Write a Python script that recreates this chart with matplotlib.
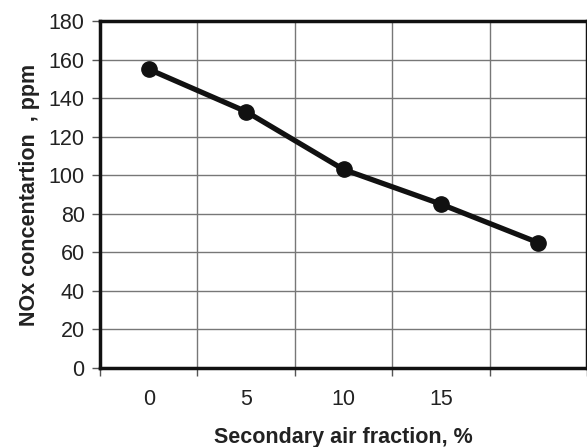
import numpy as np
import matplotlib
matplotlib.use("Agg")
import matplotlib.pyplot as plt

plt.rcParams['font.family'] = ['Liberation Sans', 'DejaVu Sans']

categories = ['0', '5', '10', '15', '']
nox_ppm = [155, 133, 103, 85, 65]

fig = plt.figure(figsize=(5.87, 4.47), dpi=100)
ax = fig.add_axes([100/587, 1 - 368/447, 487/587, 347/447])

pos = np.arange(len(categories)) + 0.5
ax.plot(pos, nox_ppm, color='#111111', lw=3.8, marker='o', ms=11,
        solid_capstyle='round', zorder=3)

ax.set_xlim(0, len(categories))
ax.set_ylim(0, 180)
ax.set_yticks(np.arange(0, 181, 20))

# boundary ticks carry the grid, centre ticks carry the labels
ax.set_xticks(np.arange(len(categories) + 1))
ax.set_xticklabels([])
ax.set_xticks(pos, minor=True)
ax.set_xticklabels(categories, minor=True)
ax.tick_params(axis='x', which='major', length=6, width=1, color='#555555')
ax.tick_params(axis='x', which='minor', length=0, pad=15, labelsize=15.5, labelcolor='#222222')
ax.tick_params(axis='y', length=6, width=1, color='#555555', pad=5, labelsize=15.5, labelcolor='#222222')

ax.grid(True, which='major', color='#777777', lw=1)
ax.set_axisbelow(True)
for s in ax.spines.values():
    s.set_linewidth(2.5)
    s.set_color('#111111')

ax.set_xlabel('Secondary air fraction, %', fontsize=15.5, fontweight='bold', labelpad=12, color='#222222')
ax.set_ylabel('NOx concentartion  , ppm', fontsize=15.5, fontweight='bold', labelpad=6, color='#222222')

fig.savefig('out.png', dpi=100)
